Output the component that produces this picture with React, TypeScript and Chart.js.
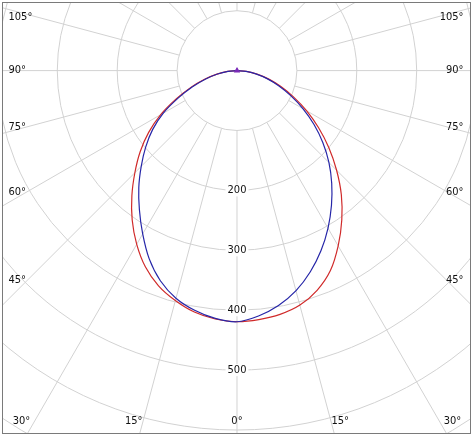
import React, { useEffect, useRef } from 'react';
import { Chart, registerables } from 'chart.js';

Chart.register(...registerables);

// Gamma angles (degrees from nadir)
const angles = [0, 5, 10, 15, 20, 25, 30, 35, 40, 45, 50, 55, 60, 65, 70, 75, 80, 85, 90];
// Red curve (C0 - C180 plane), intensities in cd
const redLeft = [420, 417, 410, 398, 383, 362, 335, 305, 273, 241, 211, 180, 147, 112, 82, 56, 34, 16, 0];
const redRight = [421, 418, 414, 406, 391, 369, 338, 305, 271, 235, 200, 166, 134, 104, 78, 55, 34, 16, 0];
// Blue curve (C90 - C270 plane)
const blueLeft = [420, 416, 407, 394, 374, 347, 315, 284, 255, 226, 199, 172, 142, 108, 79, 54, 33, 15, 0];
const blueRight = [420, 412, 399, 381, 358, 332, 304, 275, 246, 217, 187, 157, 127, 99, 74, 52, 32, 15, 0];

const ringValues = [100, 200, 300, 400, 500, 600, 700, 800];
const ringLabels = [200, 300, 400, 500];
const sideLabelAngles = [45, 60, 75, 90, 105];
const bottomLabelAngles = [-30, -15, 0, 15, 30];
const radialStep = 15;

const W = 473;
const H = 438;
const CX = 237;
const CY = 67;
const PX_PER_UNIT = 0.6125;
const FONT = "11px 'DejaVu Sans Condensed', 'Liberation Sans', sans-serif";

function toPoints(left: number[], right: number[]) {
  const pts: { x: number; y: number }[] = [];
  for (let i = angles.length - 1; i >= 0; i--) {
    const a = (angles[i] * Math.PI) / 180;
    pts.push({ x: -left[i] * Math.sin(a), y: left[i] * Math.cos(a) });
  }
  for (let i = 1; i < angles.length; i++) {
    const a = (angles[i] * Math.PI) / 180;
    pts.push({ x: right[i] * Math.sin(a), y: right[i] * Math.cos(a) });
  }
  return pts;
}

const polarGrid = {
  id: 'polarGrid',
  beforeDatasetsDraw(chart: any) {
    const ctx = chart.ctx as CanvasRenderingContext2D;
    const xs = chart.scales.x;
    const ys = chart.scales.y;
    const cx = xs.getPixelForValue(0);
    const cy = ys.getPixelForValue(0);
    const rpx = (v: number) => Math.abs(xs.getPixelForValue(v) - cx);
    const frame = { l: 2.5, t: 2.5, r: W - 2.5, b: H - 4.5 };

    ctx.save();
    ctx.fillStyle = '#ffffff';
    ctx.fillRect(0, 0, W, H);
    ctx.beginPath();
    ctx.rect(frame.l, frame.t, frame.r - frame.l, frame.b - frame.t);
    ctx.clip();

    ctx.strokeStyle = '#d2d2d2';
    ctx.lineWidth = 1;
    const r0 = rpx(ringValues[0]);
    const rMax = rpx(2000);
    for (let a = 0; a < 360; a += radialStep) {
      const t = (a * Math.PI) / 180;
      ctx.beginPath();
      ctx.moveTo(cx + r0 * Math.sin(t), cy + r0 * Math.cos(t));
      ctx.lineTo(cx + rMax * Math.sin(t), cy + rMax * Math.cos(t));
      ctx.stroke();
    }
    for (const v of ringValues) {
      ctx.beginPath();
      ctx.arc(cx, cy, rpx(v), 0, Math.PI * 2);
      ctx.stroke();
    }

    ctx.font = FONT;
    ctx.textBaseline = 'middle';
    ctx.fillStyle = '#111111';
    ctx.textAlign = 'center';
    for (const v of ringLabels) {
      const y = cy + rpx(v);
      const txt = String(v);
      const w = ctx.measureText(txt).width;
      ctx.fillStyle = '#ffffff';
      ctx.fillRect(cx - w / 2 - 2, y - 6, w + 4, 12);
      ctx.fillStyle = '#111111';
      ctx.fillText(txt, cx, y);
    }

    // side labels
    const sideDist = cx - 27;
    for (const a of sideLabelAngles) {
      const t = (a * Math.PI) / 180;
      let y = cy + (sideDist * Math.cos(t)) / Math.sin(t);
      y = Math.max(y, frame.t + 14.5);
      ctx.textAlign = 'left';
      ctx.fillText(a + '°', frame.l + 6, y);
      ctx.textAlign = 'right';
      ctx.fillText(a + '°', frame.r - 7, y);
    }
    // bottom labels
    const yb = frame.b - 12;
    for (const a of bottomLabelAngles) {
      const t = (Math.abs(a) * Math.PI) / 180;
      const off = a === 0 ? 0 : (frame.b - cy) * Math.tan(t) + 6;
      ctx.textAlign = 'center';
      ctx.fillText(Math.abs(a) + '°', cx + Math.sign(a) * off, yb);
    }
    ctx.restore();

    ctx.save();
    ctx.strokeStyle = '#7a7a7a';
    ctx.lineWidth = 1;
    ctx.strokeRect(frame.l, frame.t, frame.r - frame.l, frame.b - frame.t);
    ctx.restore();
  },
};

export default function App() {
  const ref = useRef<HTMLCanvasElement>(null);
  useEffect(() => {
    if (!ref.current) return;
    const xmin = -CX / PX_PER_UNIT;
    const xmax = (W - CX) / PX_PER_UNIT;
    const ymin = -CY / PX_PER_UNIT;
    const ymax = (H - CY) / PX_PER_UNIT;
    const bluePts = toPoints(blueLeft, blueRight);
    const chart = new Chart(ref.current, {
      type: 'scatter',
      data: {
        datasets: [
          {
            label: 'C90-C270',
            data: bluePts,
            showLine: true,
            borderColor: '#2626a8',
            backgroundColor: '#7a2ab8',
            borderWidth: 1.2,
            pointRadius: bluePts.map((_, i) => (i === 0 ? 2.5 : 0)),
            pointStyle: 'triangle',
            pointBorderColor: '#7a2ab8',
            tension: 0.3,
          },
          {
            label: 'C0-C180',
            data: toPoints(redLeft, redRight),
            showLine: true,
            borderColor: '#d02a2a',
            borderWidth: 1.2,
            pointRadius: 0,
            tension: 0.3,
          },
        ],
      },
      options: {
        animation: false,
        responsive: false,
        maintainAspectRatio: false,
        layout: { padding: 0 },
        plugins: { legend: { display: false }, tooltip: { enabled: false } },
        scales: {
          x: { type: 'linear', display: false, min: xmin, max: xmax },
          y: { type: 'linear', display: false, reverse: true, min: ymin, max: ymax },
        },
      },
      plugins: [polarGrid],
    });
    return () => chart.destroy();
  }, []);
  return (
    <div style={{ position: 'absolute', left: 0, top: 0, width: W, height: H }}>
      <canvas ref={ref} width={W} height={H} style={{ display: 'block', width: W, height: H }} />
    </div>
  );
}
